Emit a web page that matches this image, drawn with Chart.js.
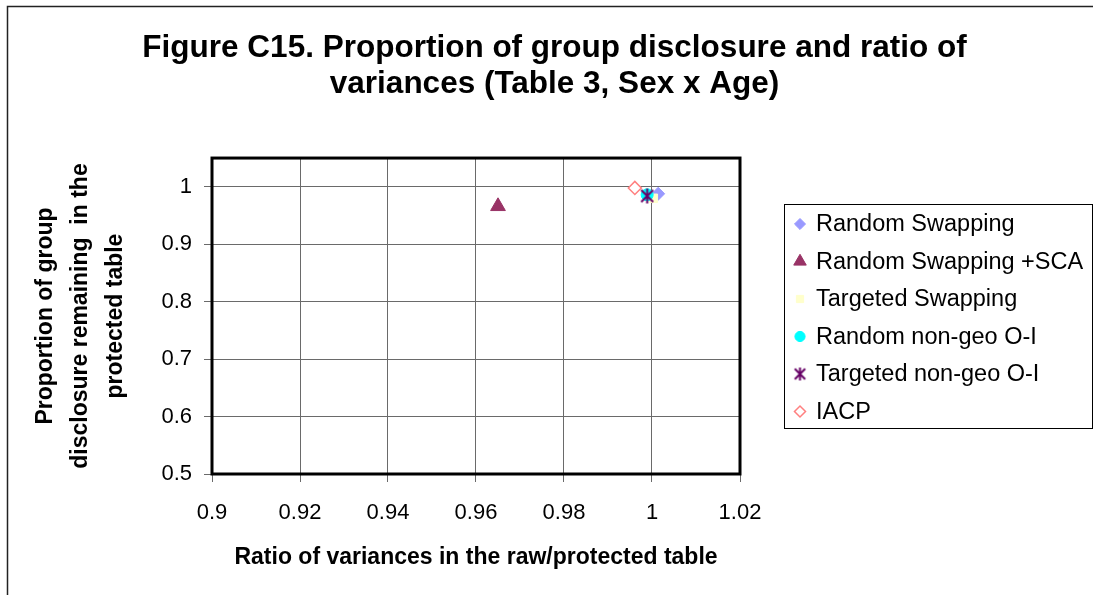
<!DOCTYPE html>
<html>
<head>
<meta charset="utf-8">
<script src="https://cdn.jsdelivr.net/npm/chart.js@4/dist/chart.umd.min.js"></script>
<style>
  html, body { margin: 0; padding: 0; background: #fff; }
  #wrap { position: relative; width: 1093px; height: 595px; }
</style>
</head>
<body>
<div id="wrap"><canvas id="c"></canvas></div>
<script>
// ---- Data ----
const seriesNames = ['Random Swapping', 'Random Swapping +SCA', 'Targeted Swapping',
                     'Random non-geo O-I', 'Targeted non-geo O-I', 'IACP'];
const xValues = [1.0014, 0.965, 1.0003, 0.9989, 0.9989, 0.9961];
const yValues = [0.9878, 0.966, 0.9800, 0.9860, 0.9840, 0.9980];
const titleLines = ['Figure C15. Proportion of group disclosure and ratio of',
                    'variances (Table 3, Sex x Age)'];
const yTitleLines = ['Proportion of group', 'disclosure remaining  in the', 'protected table'];
const xTitle = 'Ratio of variances in the raw/protected table';

// asterisk marker (vertical bar + X), like the original
function makeAsterisk(size, color, lw) {
  const c = document.createElement('canvas');
  c.width = size; c.height = size;
  const g = c.getContext('2d');
  const m = size / 2, r = size / 2 - 1;
  g.strokeStyle = color; g.lineWidth = lw; g.lineCap = 'butt';
  g.beginPath();
  g.moveTo(m, m - r); g.lineTo(m, m + r);
  const d = r * 0.8;
  g.moveTo(m - d, m - d); g.lineTo(m + d, m + d);
  g.moveTo(m + d, m - d); g.lineTo(m - d, m + d);
  g.stroke();
  return c;
}
const asteriskPlot = makeAsterisk(17, '#660066', 2);
const asteriskLegend = makeAsterisk(15, '#660066', 2);

// ---- Styles ----
const styles = [
  { pointStyle: 'rectRot',  bg: '#9999FF', border: '#9999FF', r: 6.5, bw: 1 },
  { pointStyle: 'triangle', bg: '#993366', border: '#993366', r: 8.5, bw: 1 },
  { pointStyle: 'rect',     bg: '#FFFFCC', border: '#FFFFCC', r: 6,   bw: 1 },
  { pointStyle: 'circle',   bg: '#00FFFF', border: '#00FFFF', r: 6,   bw: 1 },
  { pointStyle: asteriskPlot, legendStyle: asteriskLegend, bg: '#660066', border: '#660066', r: 8, bw: 2 },
  { pointStyle: 'rectRot',  bg: '#FFFFFF', border: '#FF8080', r: 6.5, bw: 1.5 }
];

Chart.defaults.font.family = '"Liberation Sans", Arial, sans-serif';
Chart.defaults.color = '#000';

const datasets = seriesNames.map((name, i) => ({
  label: name,
  data: [{ x: xValues[i], y: yValues[i] }],
  pointStyle: styles[i].pointStyle,
  pointRadius: styles[i].r,
  pointHoverRadius: styles[i].r,
  backgroundColor: styles[i].bg,
  borderColor: styles[i].border,
  pointBorderWidth: styles[i].bw,
  order: seriesNames.length - i
}));

const gridColor = '#6a6a6a';

const framePlugin = {
  id: 'frame',
  beforeDatasetsDraw(chart) {
    const { ctx, chartArea: a } = chart;
    ctx.save();
    ctx.strokeStyle = '#000';
    ctx.lineWidth = 3;
    ctx.strokeRect(a.left, a.top, a.right - a.left, a.bottom - a.top);
    ctx.restore();
  },
  afterDraw(chart) {
    const ctx = chart.ctx;
    ctx.save();
    // outer chart border
    ctx.strokeStyle = '#222';
    ctx.lineWidth = 1.5;
    ctx.strokeRect(7.5, 6.5, 1200, 700);
    // legend
    const lx = 784, ly = 204, lw = 308, lh = 224;
    ctx.fillStyle = '#fff';
    ctx.fillRect(lx, ly, lw, lh);
    ctx.strokeStyle = '#000';
    ctx.lineWidth = 1;
    ctx.strokeRect(lx + 0.5, ly + 0.5, lw, lh);
    ctx.font = '23.5px "Liberation Sans", Arial, sans-serif';
    ctx.textBaseline = 'middle';
    ctx.textAlign = 'left';
    chart.data.datasets.forEach((ds, i) => {
      const cy = 224 + i * 37.5;
      const st = styles[i];
      ctx.save();
      ctx.fillStyle = st.bg;
      ctx.strokeStyle = st.border;
      ctx.lineWidth = st.bw;
      Chart.helpers.drawPoint(ctx, { pointStyle: st.legendStyle || st.pointStyle, radius: st.r * 0.85, rotation: 0, borderWidth: st.bw }, 800, cy);
      ctx.restore();
      ctx.fillStyle = '#000';
      ctx.fillText(ds.label, 816, cy + 1);
    });
    ctx.restore();
  }
};

new Chart(document.getElementById('c'), {
  type: 'scatter',
  data: { datasets },
  options: {
    responsive: true,
    maintainAspectRatio: false,
    animation: false,
    layout: { padding: { left: 16, right: 0, top: 0, bottom: 0 } },
    plugins: {
      legend: { display: false },
      tooltip: { enabled: false },
      title: {
        display: true,
        text: titleLines,
        font: { size: 31.5, weight: 'bold', lineHeight: 1.15 },
        color: '#000',
        padding: { top: 30, bottom: 55.6 }
      }
    },
    scales: {
      x: {
        type: 'linear',
        position: 'bottom',
        min: 0.9, max: 1.02,
        afterFit(s) { s.height = 121; },
        ticks: {
          stepSize: 0.02,
          font: { size: 22 },
          padding: 18,
          color: '#000',
          callback: v => String(+v.toFixed(2))
        },
        grid: { color: gridColor, lineWidth: 1, tickLength: 8, drawTicks: true },
        border: { display: false },
        title: {
          display: true,
          text: xTitle,
          font: { size: 23, weight: 'bold', lineHeight: 1.2 },
          color: '#000',
          padding: { top: 0, bottom: 24 }
        }
      },
      y: {
        type: 'linear',
        position: 'left',
        min: 0.5, max: 1.05,
        afterFit(s) { s.width = 196; },
        afterBuildTicks(s) { s.ticks = s.ticks.filter(t => t.value <= 1.0001); },
        ticks: {
          stepSize: 0.1,
          font: { size: 22 },
          padding: 12,
          color: '#000',
          callback: v => String(+v.toFixed(2))
        },
        grid: { color: gridColor, lineWidth: 1, tickLength: 8, drawTicks: true },
        border: { display: false },
        title: {
          display: true,
          text: yTitleLines,
          font: { size: 23, weight: 'bold', lineHeight: 1.52 },
          color: '#000',
          padding: { top: 12, bottom: 0 }
        }
      },
      yR: {
        type: 'linear',
        position: 'right',
        display: true,
        afterFit(s) { s.width = 353; },
        ticks: { display: false },
        grid: { display: false, drawTicks: false },
        border: { display: false }
      }
    }
  },
  plugins: [framePlugin]
});
</script>
</body>
</html>
